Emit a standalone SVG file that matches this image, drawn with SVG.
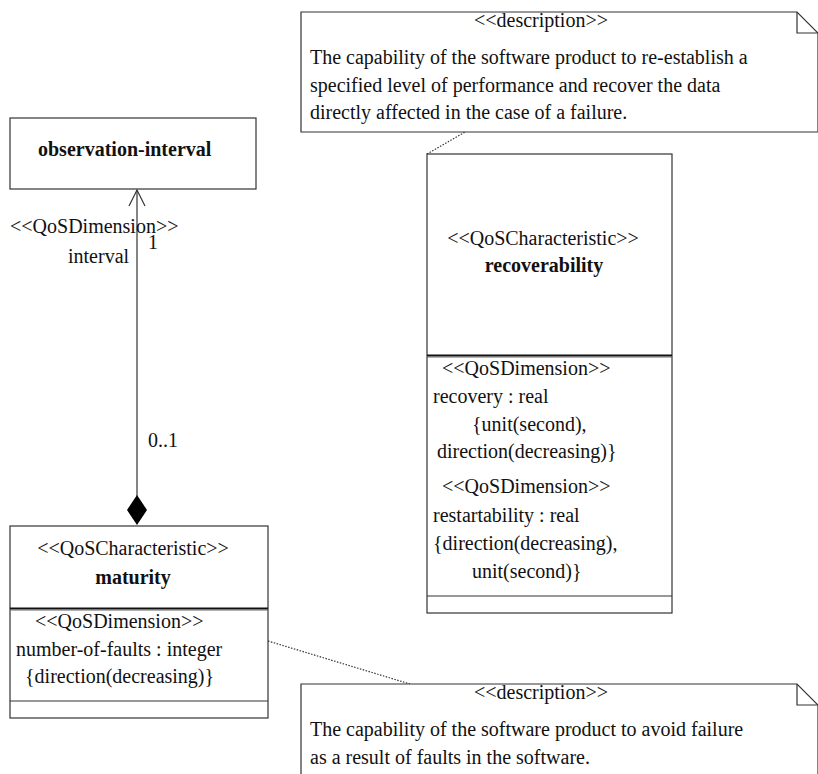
<svg xmlns="http://www.w3.org/2000/svg" width="818" height="774" viewBox="0 0 818 774">
<style>
text{font-family:"Liberation Serif","Times New Roman",serif;font-size:20px;fill:#111}
.b{font-weight:bold}
.m{text-anchor:middle}
.box{fill:#fff;stroke:#333;stroke-width:1.2}
.ln{stroke:#333;stroke-width:1.2;fill:none}
.sep1{stroke:#111;stroke-width:2;fill:none}
.sep2{stroke:#666;stroke-width:1;fill:none}
.dot{stroke:#333;stroke-width:1.2;stroke-dasharray:1.5 1.5;fill:none}
</style>
<rect width="818" height="774" fill="#fff"/>
<g id="connectors">
<line class="ln" x1="137" y1="190" x2="137" y2="496"/>
<polyline class="ln" points="129,206 137,190 145,206"/>
<polygon points="137,495 147,510 137,525 127,510" fill="#000"/>
<text x="10" y="233">&lt;&lt;QoSDimension&gt;&gt;</text>
<text x="148" y="249">1</text>
<text x="68" y="263">interval</text>
<text x="148" y="447">0..1</text>
<line class="dot" x1="427" y1="154" x2="465" y2="132"/>
<line class="dot" x1="268" y1="641" x2="410" y2="684"/>
</g>
<g id="note-recoverability">
<path class="box" d="M301,12 H797 L818,33 V132 H301 Z"/>
<path class="ln" d="M797,12 V33 H818"/>
<text class="m" x="541" y="27">&lt;&lt;description&gt;&gt;</text>
<text x="310" y="64">The capability of the software product to re-establish a</text>
<text x="310" y="91.5">specified level of performance and recover the data</text>
<text x="310" y="119">directly affected in the case of a failure.</text>
</g>
<g id="observation-interval">
<rect class="box" x="10" y="118" width="246" height="71"/>
<text class="b" x="38" y="156">observation-interval</text>
</g>
<g id="recoverability">
<rect class="box" x="427" y="154" width="245" height="459"/>
<line class="sep1" x1="427" y1="355.5" x2="672" y2="355.5"/>
<line class="sep2" x1="427" y1="357" x2="672" y2="357"/>
<line class="ln" x1="427" y1="596" x2="672" y2="596"/>
<text class="m" x="543" y="245">&lt;&lt;QoSCharacteristic&gt;&gt;</text>
<text class="b m" x="544" y="272">recoverability</text>
<text x="442" y="375">&lt;&lt;QoSDimension&gt;&gt;</text>
<text x="433" y="403">recovery : real</text>
<text x="472" y="431">{unit(second),</text>
<text x="437" y="458">direction(decreasing)}</text>
<text x="442" y="493">&lt;&lt;QoSDimension&gt;&gt;</text>
<text x="433" y="522">restartability : real</text>
<text x="433" y="550">{direction(decreasing),</text>
<text x="472" y="578">unit(second)}</text>
</g>
<g id="maturity">
<rect class="box" x="10" y="526" width="258" height="192"/>
<line class="sep1" x1="10" y1="608.5" x2="268" y2="608.5"/>
<line class="sep2" x1="10" y1="610" x2="268" y2="610"/>
<line class="ln" x1="10" y1="701" x2="268" y2="701"/>
<text class="m" x="133" y="555">&lt;&lt;QoSCharacteristic&gt;&gt;</text>
<text class="b m" x="133" y="584">maturity</text>
<text x="35" y="628">&lt;&lt;QoSDimension&gt;&gt;</text>
<text x="16" y="656">number-of-faults : integer</text>
<text x="25" y="683">{direction(decreasing)}</text>
</g>
<g id="note-maturity">
<path class="box" d="M301,684 H797 L818,705 V790 H301 Z"/>
<path class="ln" d="M797,684 V705 H818"/>
<text class="m" x="541" y="699">&lt;&lt;description&gt;&gt;</text>
<text x="310" y="736">The capability of the software product to avoid failure</text>
<text x="310" y="763.5">as a result of faults in the software.</text>
</g>
</svg>
